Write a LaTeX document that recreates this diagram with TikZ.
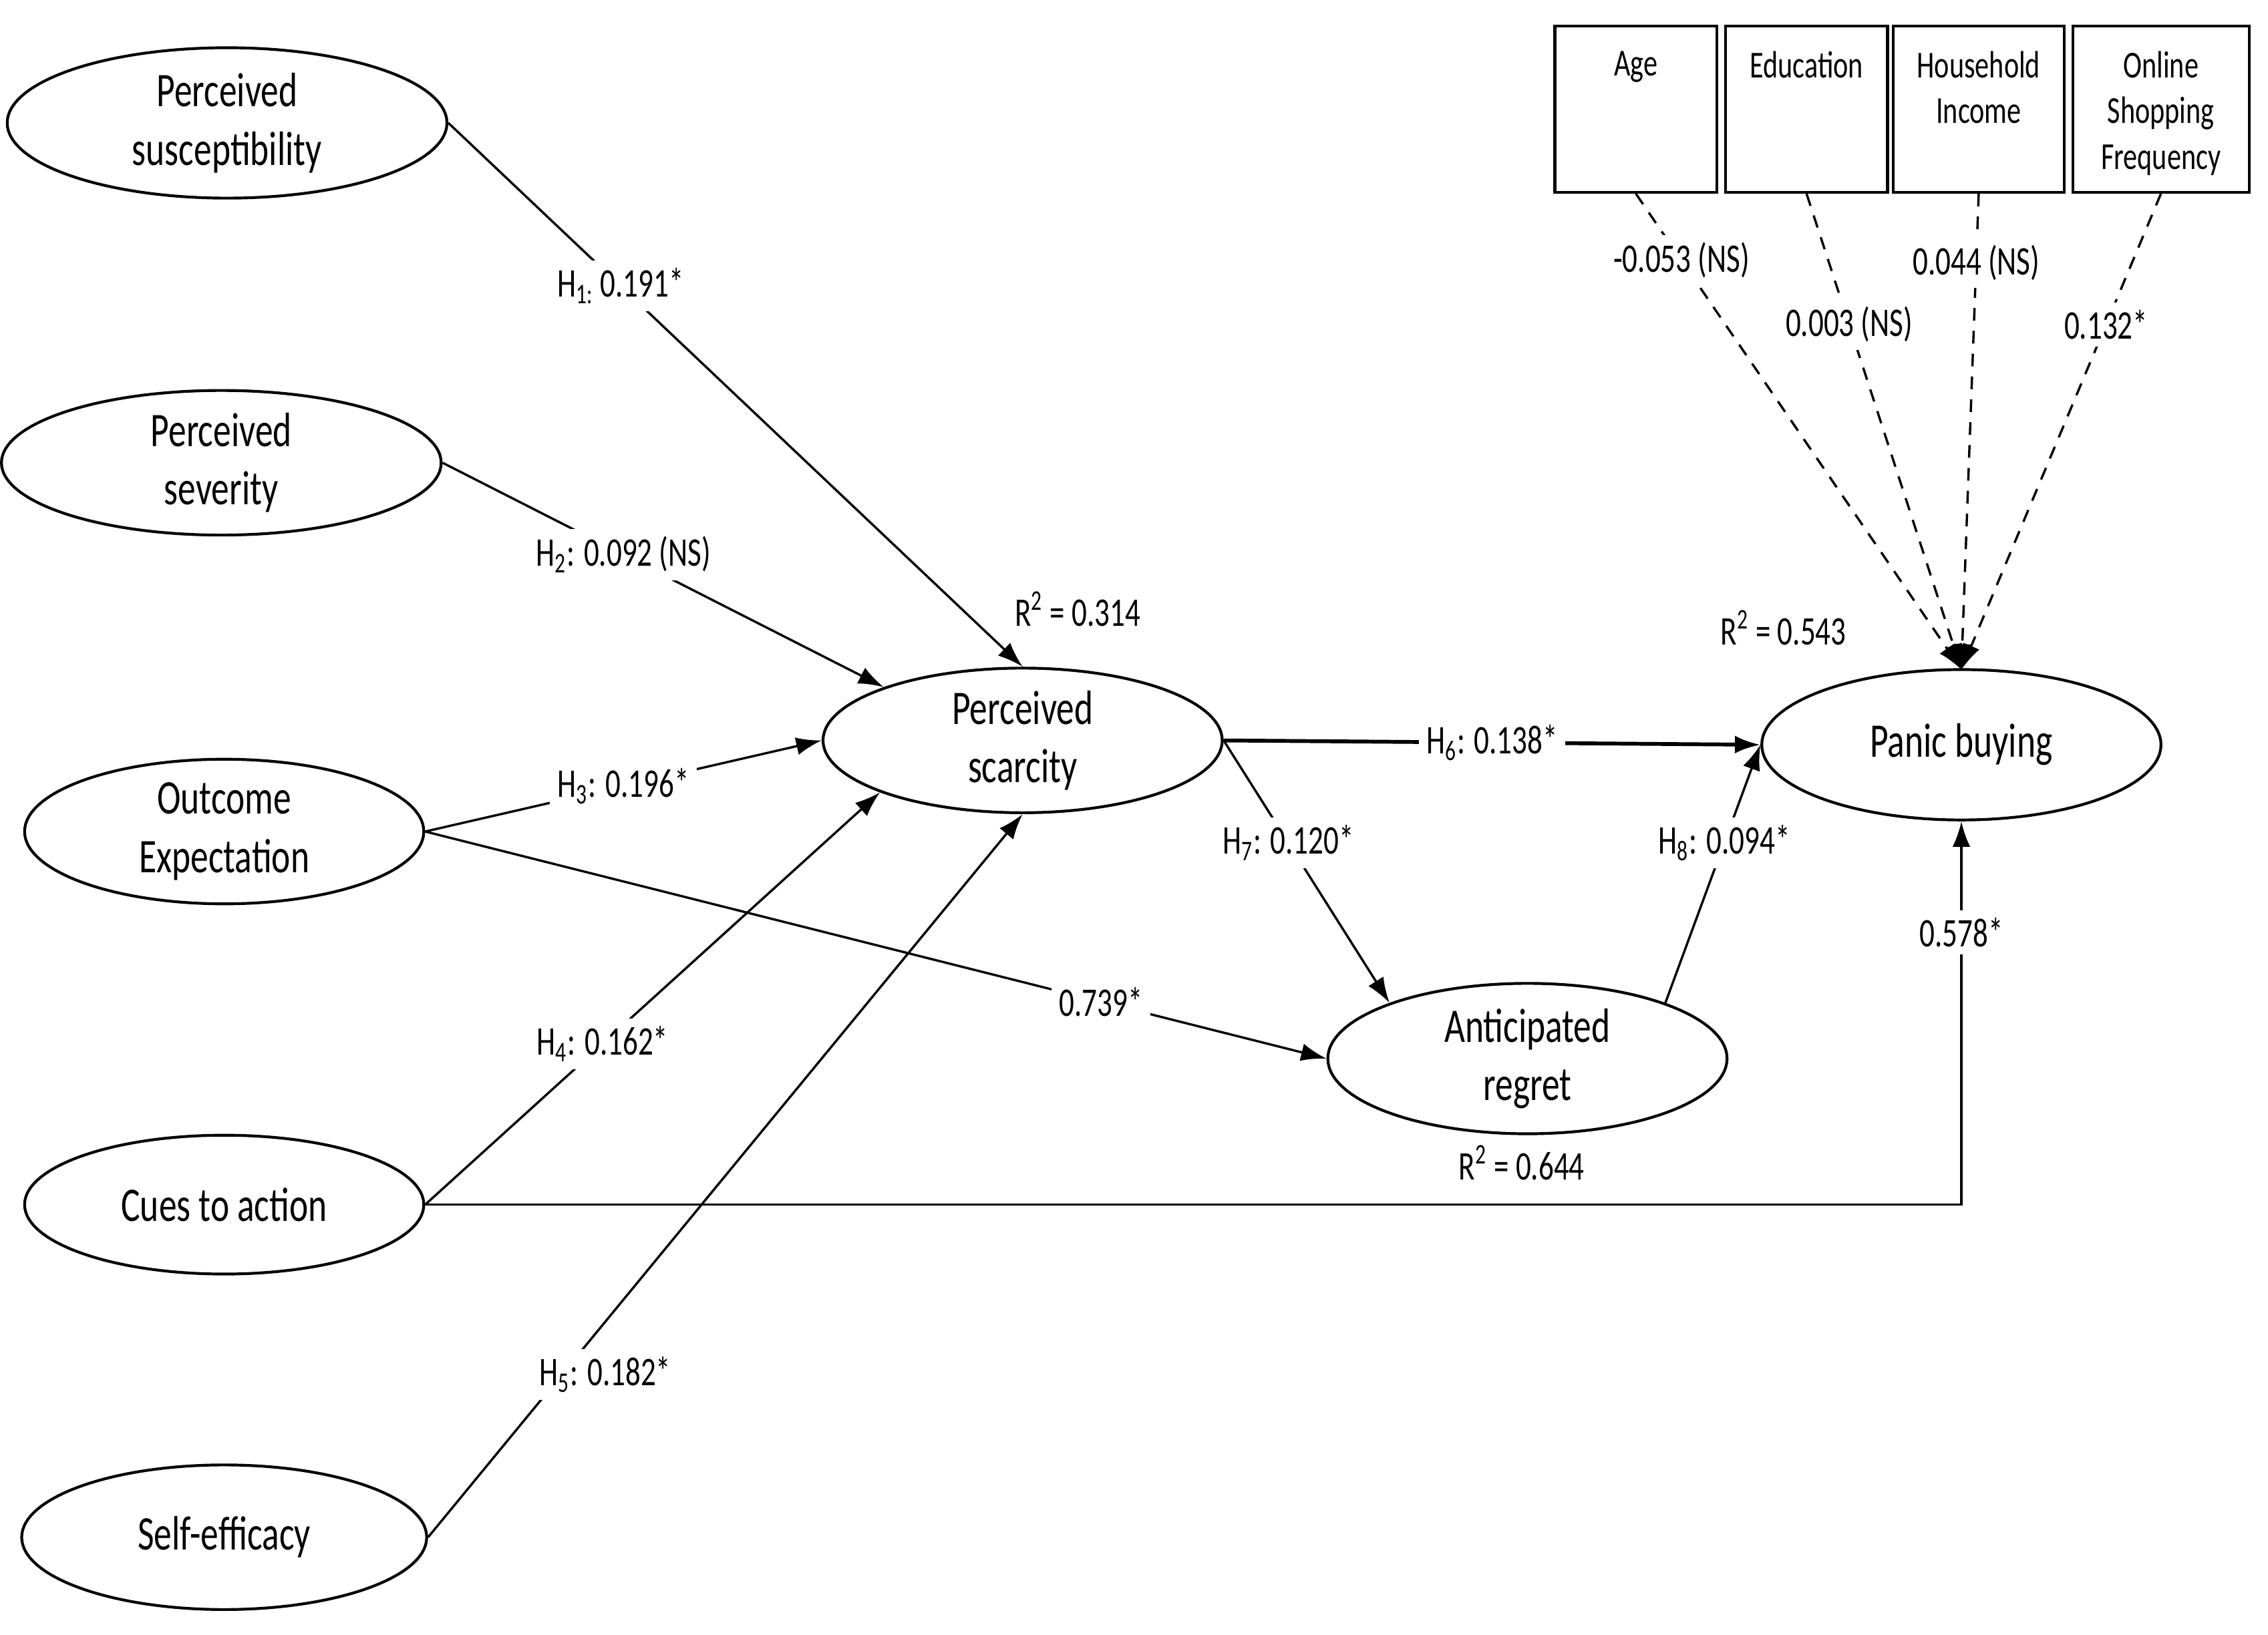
\documentclass[tikz,border=0pt]{standalone}
\usepackage{fontspec}
\setmainfont{Carlito}[FakeStretch=0.74]
\usetikzlibrary{shapes.geometric,arrows.meta}
\begin{document}
\begin{tikzpicture}[x=0.02cm,y=-0.02cm,
  el/.style={ellipse,draw,line width=1.1pt,inner sep=0pt,align=center,font=\fontsize{19}{23}\selectfont},
  bx/.style={draw,line width=1.1pt,anchor=north west,align=center},
  bt/.style={anchor=north,align=center,yshift=-7pt,font=\fontsize{15}{18}\selectfont},
  lab/.style={fill=white,inner sep=3pt,font=\fontsize{16}{19}\selectfont},
  r2/.style={font=\fontsize{16}{19}\selectfont},
  ar/.style={line width=0.9pt,-{Latex[length=10pt,width=7pt]}},
  da/.style={line width=0.9pt,dashed,dash pattern=on 5pt off 4pt,-{Latex[length=10pt,width=7pt]}}]
\useasboundingbox (0,0) rectangle (1568,1130.6);
\node[el,minimum width=304*0.02cm,minimum height=104*0.02cm] (sus) at (157,85) {Perceived\\susceptibility};
\node[el,minimum width=304*0.02cm,minimum height=100*0.02cm] (sev) at (153,320) {Perceived\\severity};
\node[el,minimum width=276*0.02cm,minimum height=100*0.02cm] (out) at (155,575) {Outcome\\Expectation};
\node[el,minimum width=276*0.02cm,minimum height=96*0.02cm] (cue) at (155,833) {Cues to action};
\node[el,minimum width=280*0.02cm,minimum height=100*0.02cm] (self) at (155,1063) {Self-efficacy};
\node[el,minimum width=276*0.02cm,minimum height=100*0.02cm] (sca) at (707,512) {Perceived\\scarcity};
\node[el,minimum width=276*0.02cm,minimum height=104*0.02cm] (pan) at (1356,515) {Panic buying};
\node[el,minimum width=276*0.02cm,minimum height=104*0.02cm] (reg) at (1056,732) {Anticipated\\regret};
\node[bx,minimum width=112*0.02cm,minimum height=115*0.02cm] (age) at (1074,17) {};
\node[bt] (agel) at (age.north) {Age};
\node[bx,minimum width=112*0.02cm,minimum height=115*0.02cm] (edu) at (1192,17) {};
\node[bt] (edul) at (edu.north) {Education};
\node[bx,minimum width=118*0.02cm,minimum height=115*0.02cm] (inc) at (1308,17) {};
\node[bt] (incl) at (inc.north) {Household\\Income};
\node[bx,minimum width=122*0.02cm,minimum height=115*0.02cm] (onl) at (1432,17) {};
\node[bt] (onll) at (onl.north) {Online\\Shopping\\Frequency};
\coordinate (pt) at (1356,463);
\draw[ar] (sus.east) -- node[lab,pos=0.30]{H\textsubscript{1:} 0.191*} (sca.north);
\draw[ar] (sev.east) -- node[lab,pos=0.41]{H\textsubscript{2}: 0.092 (NS)} (sca.159);
\draw[ar] (out.east) -- node[lab,pos=0.5]{H\textsubscript{3}: 0.196*} (sca.west);
\draw[ar] (cue.east) -- node[lab,pos=0.39]{H\textsubscript{4}: 0.162*} (sca.-160);
\draw[ar] (self.east) -- node[lab,pos=0.225,xshift=0.6cm]{H\textsubscript{5}: 0.182*} (sca.south);
\draw[ar] (out.east) -- node[lab,pos=0.75]{0.739*} (reg.west);
\draw[ar,line width=1.5pt] (sca.east) -- node[lab,pos=0.5]{H\textsubscript{6}: 0.138*} (pan.west);
\draw[ar] (sca.east) -- node[lab,pos=0.39]{H\textsubscript{7}: 0.120*} (reg.158);
\draw[ar] (reg.22) -- node[lab,pos=0.62]{H\textsubscript{8}: 0.094*} (pan.west);
\draw[ar] (cue.east) -- (pan.south |- cue.east) -- node[lab,pos=0.71]{0.578*} (pan.south);
\draw[da] (age.south) -- node[lab,pos=0.14]{-0.053 (NS)} (pt);
\draw[da] (edu.south) -- node[lab,pos=0.275]{0.003 (NS)} (pt);
\draw[da] (inc.south) -- node[lab,pos=0.145]{0.044 (NS)} (pt);
\draw[da] (onl.south) -- node[lab,pos=0.275]{0.132*} (pt);
\node[r2] (r1) at (745,421) {R\textsuperscript{2} = 0.314};
\node[r2] (r2n) at (1233,434) {R\textsuperscript{2} = 0.543};
\node[r2] (r3) at (1052,804) {R\textsuperscript{2} = 0.644};
\end{tikzpicture}
\end{document}
